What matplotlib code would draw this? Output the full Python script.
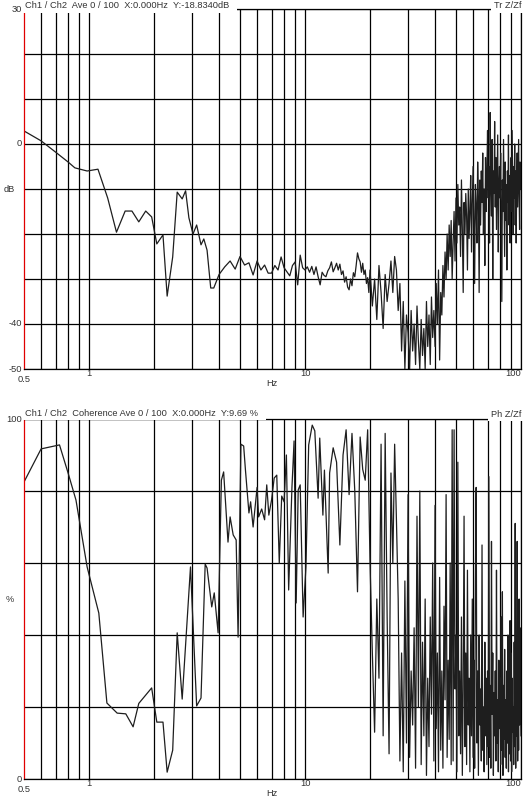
import numpy as np
import matplotlib
matplotlib.use("Agg")
import matplotlib.pyplot as plt

plt.rcParams["font.family"] = ["Liberation Sans", "DejaVu Sans"]

# ---------------- Transfer function (Tr Z/Zf), dB ----------------
top_freq_low = [0.5, 0.6, 0.7, 0.8, 0.86, 0.98, 1.1, 1.22, 1.34, 1.47,
                1.58, 1.7, 1.83, 1.95, 2.06, 2.2, 2.3, 2.44, 2.56, 2.7,
                2.8, 2.9, 3.03, 3.15, 3.3, 3.4, 3.52, 3.66, 3.78]
top_db_low = [2.9, 0.7, -1.8, -4.0, -5.3, -6.0, -5.6, -12.0, -19.6, -14.9,
              -14.9, -17.3, -14.9, -16.2, -22.2, -20.2, -33.8, -25.1, -10.7, -12.2,
              -10.4, -16.4, -20.0, -18.0, -22.4, -21.1, -23.6, -32.0, -32.0]

# 4 .. 19.75 Hz, every 0.25 Hz
top_freq_mid = np.arange(4.0, 20.0, 0.25)
top_db_mid = [-29.0, -27.3, -26.0, -27.8, -25.0, -26.9, -26.4, -29.1,
              -26.0, -28.0, -26.9, -28.7, -28.7, -27.0, -28.0, -25.1,
              -27.5, -28.4, -29.3, -27.0, -26.2, -31.3, -24.7, -27.5,
              -28.0, -27.3, -28.5, -27.2, -29.0, -27.3, -29.5, -31.3,
              -28.5, -29.2, -29.5, -28.2, -27.5, -26.2, -28.4, -27.5,
              -26.5, -28.0, -26.7, -29.0, -28.2, -30.7, -29.5, -31.8,
              -32.4, -30.0, -31.5, -28.6, -29.5, -27.0, -24.2, -25.5,
              -26.2, -28.5, -26.5, -29.0, -28.0, -31.0, -29.7, -33.0]

# 20 .. 100 Hz, every 0.5 Hz
top_freq_hi = np.arange(20.0, 100.01, 0.5)
top_db_hi = [-28, -36, -30, -39, -27, -33, -41, -29, -35, -31,
             -26, -33, -25, -28, -37, -31, -46, -35, -50, -38,
             -42, -50, -37, -46, -40, -49, -36, -44, -50, -39,
             -47, -41, -50, -35, -45, -38, -49, -34, -43, -37,
             -45, -31, -40, -28, -48, -33, -38, -27, -34, -24,
             -30, -20, -28, -18, -25, -17, -30, -22, -15, -26,
             -12, -22, -9, -18, -14, -25, -8, -19, -33, -13,
             -20, -11, -16, -28, -10, -21, -15, -7, -24, -13,
             -5, -17, -31, -9, -14, -22, -4, -12, -33, -8,
             -18, -6, -13, -2, -20, -10, -27, -3, -15, -7,
             3, -12, -5, -22, 7, -9, -16, 1, -30, -6,
             -11, 5, -14, -3, -19, -8, 2, -24, -10, -5,
             -12, -2, -20, -35, -8, -15, 1, -11, -25, -4,
             -17, -9, -28, -6, -13, 2, -18, -7, -22, -10,
             -3, -15, 3, -8, -20, -5, -12, 0, -18, -6,
             -22, -9, -2, -14, -7, 1, -11, -19, -4, -10, -8]

# ---------------- Coherence, % ----------------
coh_freq_low = [0.5, 0.6, 0.73, 0.8, 0.87, 0.98, 1.11, 1.21, 1.35, 1.48,
                1.6, 1.7, 1.95, 2.06, 2.2, 2.3, 2.44, 2.56, 2.7, 2.95,
                3.15, 3.3, 3.45, 3.52, 3.7, 3.8, 3.96, 4.1, 4.2, 4.4,
                4.5, 4.65, 4.8, 4.9, 5.05, 5.2, 5.3, 5.5, 5.6, 5.75,
                6.0, 6.1, 6.3, 6.5, 6.65, 6.8, 7.0, 7.2, 7.4, 7.6,
                7.8, 8.0, 8.2, 8.4, 8.7, 8.9, 9.1, 9.3, 9.5, 9.8,
                10.1, 10.4, 10.8, 11.1, 11.5, 11.7, 12.1, 12.3, 12.8]
coh_pct_low = [82.5, 91.7, 92.8, 85.0, 77.5, 58.9, 46.1, 21.1, 18.3, 18.1,
               14.5, 21.0, 25.3, 15.8, 15.8, 1.9, 8.0, 40.6, 22.2, 58.9,
               20.3, 22.5, 59.7, 58.6, 47.8, 51.7, 40.6, 83.0, 85.3, 65.8,
               72.8, 67.8, 66.4, 39.4, 93.0, 92.5, 85.8, 73.9, 77.0, 70.0,
               81.0, 72.8, 75.0, 72.0, 81.7, 73.3, 77.5, 83.6, 84.4, 60.0,
               78.6, 77.0, 90.0, 52.5, 81.0, 93.9, 48.9, 80.3, 81.7, 45.0,
               58.9, 92.8, 98.3, 96.7, 78.0, 94.7, 73.3, 85.8, 57.2]

# 13 .. 100 Hz, every 0.5 Hz
coh_freq_hi = np.arange(13.0, 100.01, 0.5)
coh_pct_hi = [85, 92, 88, 65, 90, 97, 79, 96, 80, 52, 95, 86, 83, 97,
              60, 35, 13, 50, 28, 93, 12, 96, 45, 7, 85, 60, 93, 72, 50, 5,
              35, 2, 55, 10,
              79, 6, 30, 15, 42, 3, 73, 20, 80, 4, 38, 12, 50, 1, 28, 9,
              45, 18, 60, 5, 76, 14, 35, 2, 56, 8, 30, 3, 48, 22, 79, 6,
              33, 11, 60, 4, 97, 5, 97, 25, 40, 2, 88, 12, 30, 7, 45, 1,
              25, 73, 9, 35, 4, 58, 15, 28, 2, 40, 12, 50, 6, 33, 3, 55,
              81, 10, 30, 1, 40, 15, 25, 5, 65, 8, 20, 2, 38, 12, 28, 4,
              30, 9, 84, 6, 26, 3, 66, 18, 35, 1, 24, 12, 30, 5, 58, 10,
              22, 2, 33, 14, 28, 4, 45, 8, 52, 1, 26, 11, 36, 6, 22, 3,
              30, 10, 40, 2, 24, 7, 44, 5, 35, 2, 28, 13, 20, 4, 38, 9,
              71, 3, 30, 12, 66, 5, 25, 8, 50, 15, 42, 20,
              12]

top_f = np.concatenate([top_freq_low, top_freq_mid, top_freq_hi])
top_y = np.concatenate([top_db_low, top_db_mid, top_db_hi])
coh_f = np.concatenate([coh_freq_low, coh_freq_hi])
coh_y = np.concatenate([coh_pct_low, coh_pct_hi])

grid_freqs = [0.6, 0.7, 0.8, 0.9, 1, 2, 3, 4, 5, 6, 7, 8, 9,
              10, 20, 30, 40, 50, 60, 70, 80, 90, 100]

W, H = 528, 801
fig = plt.figure(figsize=(W / 100, H / 100), dpi=100)
txt = "#333333"
fs = 6.7
trace = "#1e1e1e"


def make_axes(top, bottom):
    return fig.add_axes([24 / W, 1 - bottom / H, 497 / W, (bottom - top) / H])


def style(ax, ylim, ystep):
    ax.set_xscale("log")
    ax.set_xlim(0.5, 100)
    ax.set_ylim(*ylim)
    ax.set_xticks(grid_freqs)
    ax.set_xticks([], minor=True)
    ax.set_yticks(np.arange(ylim[0], ylim[1] + 1, ystep))
    ax.tick_params(length=0, labelleft=False, labelbottom=False)
    ax.grid(True, color="black", lw=0.9)
    for s in ax.spines.values():
        s.set_color("black")
        s.set_linewidth(0.9)
    ax.spines["left"].set_color("#e00000")


def ylabels(ax, labels, unit):
    tr = ax.get_yaxis_transform()
    for v, lab in labels:
        ax.text(-0.004, v, lab, transform=tr, ha="right", va="center", fontsize=fs, color=txt)
    ax.text(-0.029, 0.5, unit, transform=ax.transAxes, ha="center", va="center", fontsize=fs, color=txt)


def xlabels(ax, h):
    tr = ax.get_xaxis_transform()
    ax.text(0.5, -11 / h, "0.5", transform=tr, ha="center", va="center", fontsize=fs, color=txt)
    ax.text(1, -5 / h, "1", transform=tr, ha="center", va="center", fontsize=fs, color=txt)
    ax.text(10, -5 / h, "10", transform=tr, ha="center", va="center", fontsize=fs, color=txt)
    ax.text(100, -5 / h, "100", transform=tr, ha="right", va="center", fontsize=fs, color=txt)
    ax.text(7.0, -15 / h, "Hz", transform=tr, ha="center", va="center", fontsize=fs, color=txt)


box = dict(facecolor="white", edgecolor="none", pad=2)

# ---- transfer function ----
ax1 = make_axes(9, 369)
style(ax1, (-50, 30), 10)
ax1.plot(top_f, top_y, color=trace, lw=0.9)
ylabels(ax1, [(30, "30"), (0, "0"), (-40, "-40"), (-50, "-50")], "dB")
xlabels(ax1, 360)
fig.text(25 / W, 1 - 5.5 / H, "Ch1 / Ch2  Ave 0 / 100  X:0.000Hz  Y:-18.8340dB  ",
         ha="left", va="center", fontsize=fs, color=txt, bbox=box, zorder=5)
fig.text(521 / W, 1 - 5.5 / H, "Tr Z/Zf", ha="right", va="center", fontsize=fs,
         color=txt, bbox=box, zorder=5)

# ---- coherence ----
ax2 = make_axes(419, 779)
style(ax2, (0, 100), 20)
ax2.plot(coh_f, coh_y, color=trace, lw=0.9)
ylabels(ax2, [(100, "100"), (0, "0")], "%")
xlabels(ax2, 360)
fig.text(25 / W, 1 - 413 / H, "Ch1 / Ch2  Coherence Ave 0 / 100  X:0.000Hz  Y:9.69 %  ",
         ha="left", va="center", fontsize=fs, color=txt, bbox=box, zorder=5)
fig.text(521 / W, 1 - 414 / H, "Ph Z/Zf", ha="right", va="center", fontsize=fs,
         color=txt, bbox=box, zorder=5)

fig.savefig("out.png", dpi=100)
